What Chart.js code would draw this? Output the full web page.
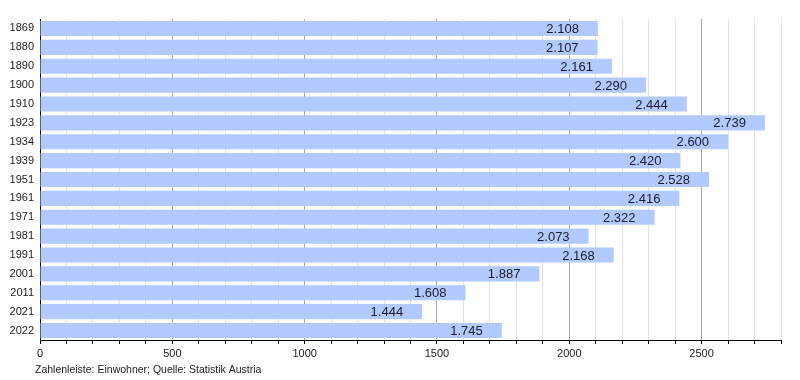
<!DOCTYPE html>
<html>
<head>
<meta charset="utf-8">
<script src="https://cdn.jsdelivr.net/npm/chart.js@4"></script>
<style>
  html, body { margin: 0; padding: 0; background: #fff; }
  #wrap { width: 800px; height: 380px; }
</style>
</head>
<body>
<div id="wrap"><canvas id="chart"></canvas></div>
<script>
// Data
const years = ["1869", "1880", "1890", "1900", "1910", "1923", "1934", "1939", "1951",
               "1961", "1971", "1981", "1991", "2001", "2011", "2021", "2022"];
const population = [2108, 2107, 2161, 2290, 2444, 2739, 2600, 2420, 2528,
                    2416, 2322, 2073, 2168, 1887, 1608, 1444, 1745];
const xTickLabels = [0, 500, 1000, 1500, 2000, 2500];
const footnote = "Zahlenleiste: Einwohner; Quelle: Statistik Austria";

// Value labels inside bar ends, German format
const barLabels = {
    id: "barLabels",
    afterDatasetsDraw(chart) {
        const ctx = chart.ctx;
        const meta = chart.getDatasetMeta(0);
        ctx.save();
        ctx.font = "13px 'Liberation Sans', Arial, sans-serif";
        ctx.fillStyle = "#1c1c28";
        ctx.textAlign = "right";
        ctx.textBaseline = "middle";
        meta.data.forEach((bar, i) => {
            const txt = population[i].toLocaleString("de-DE");
            ctx.fillText(txt, bar.x - 19, bar.y + 1);
        });
        ctx.restore();
    }
};

const footer = {
    id: "footer",
    afterDraw(chart) {
        const ctx = chart.ctx;
        ctx.save();
        ctx.font = "10.5px 'Liberation Sans', Arial, sans-serif";
        ctx.fillStyle = "#222";
        ctx.textAlign = "left";
        ctx.textBaseline = "middle";
        ctx.fillText(footnote, 35, 370);
        ctx.restore();
    }
};

new Chart(document.getElementById("chart"), {
    type: "bar",
    data: {
        labels: years,
        datasets: [{
            data: population,
            backgroundColor: "rgb(178,202,255)",
            barPercentage: 0.8,
            categoryPercentage: 1.0
        }]
    },
    options: {
        indexAxis: "y",
        responsive: true,
        maintainAspectRatio: false,
        animation: false,
        layout: { padding: { top: 19, right: 19, left: 0, bottom: 0 } },
        plugins: {
            legend: { display: false },
            tooltip: { enabled: false }
        },
        scales: {
            x: {
                min: 0,
                max: 2800,
                ticks: {
                    stepSize: 100,
                    autoSkip: false,
                    maxRotation: 0,
                    padding: 3,
                    color: "#222",
                    font: { size: 11, family: "'Liberation Sans', Arial, sans-serif" },
                    callback: (v) => xTickLabels.includes(v) ? String(v) : ""
                },
                grid: {
                    color: (c) => (c.tick && c.tick.value % 500 === 0) ? "#a8a8a8" : "#e2e2e2",
                    tickColor: "#000",
                    tickLength: 4
                },
                border: { color: "#000", width: 1 },
                afterFit: (s) => { s.height = 40; }
            },
            y: {
                ticks: {
                    color: "#222",
                    padding: 6,
                    font: { size: 11, family: "'Liberation Sans', Arial, sans-serif" }
                },
                grid: { display: false, drawTicks: false },
                border: { color: "#000", width: 1 },
                afterFit: (s) => { s.width = 40; }
            }
        }
    },
    plugins: [barLabels, footer]
});
</script>
</body>
</html>
